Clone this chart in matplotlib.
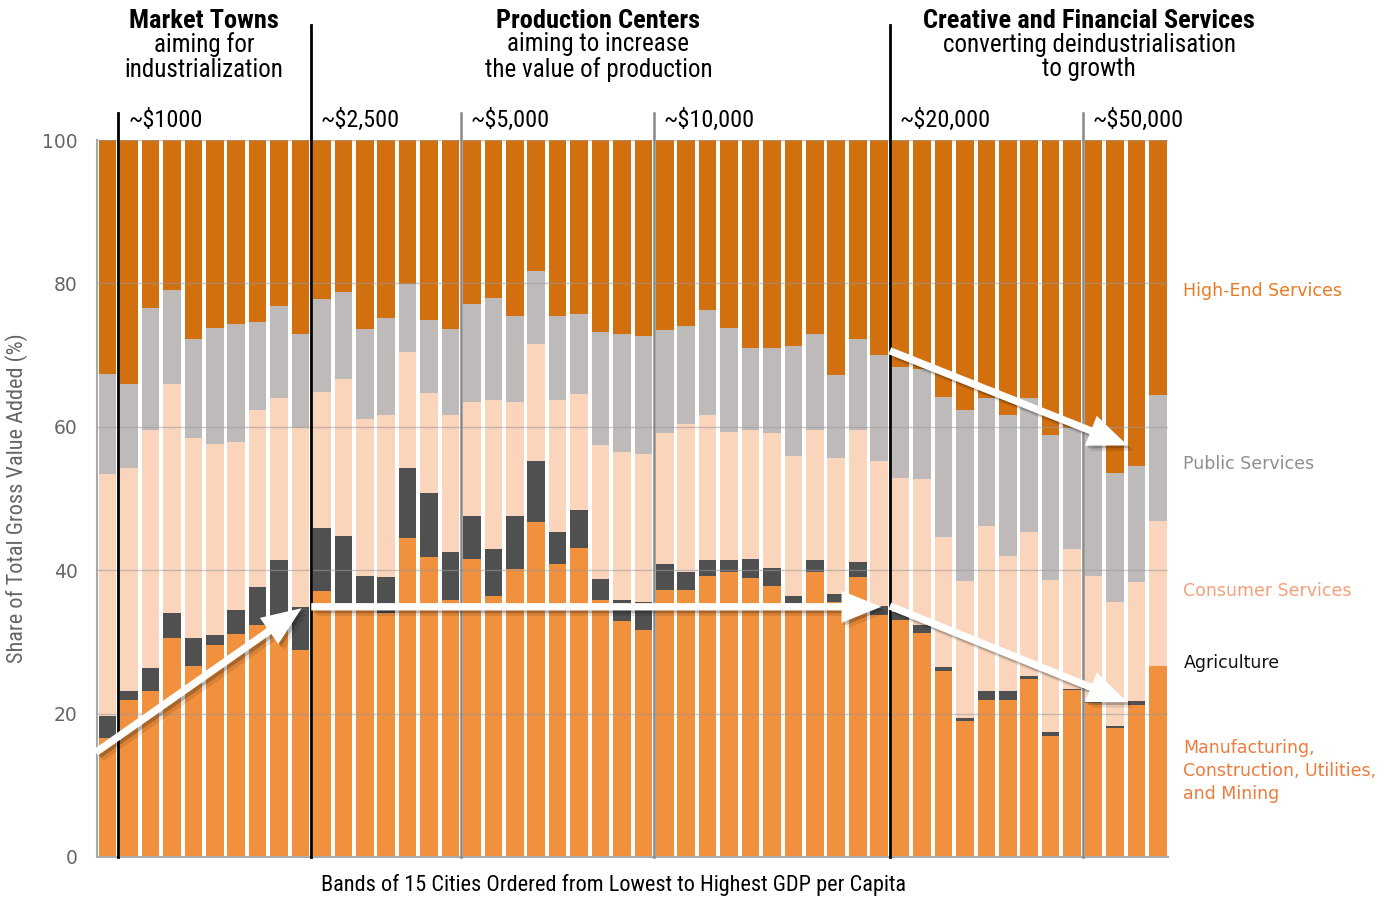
import numpy as np
import matplotlib
matplotlib.use("Agg")
import matplotlib.pyplot as plt
import matplotlib.patheffects as pe
from matplotlib import font_manager

# 每根柱子 = 15 个城市的平均产业构成 (%)
manufacturing = [16.6, 21.9, 23.2, 30.6, 26.6, 29.5, 31.1, 32.3, 33.0, 28.9,
                 37.1, 35.0, 35.0, 34.0, 44.5, 41.8, 35.9, 41.5, 36.4, 40.1,
                 46.7, 40.9, 43.1, 35.9, 32.9, 31.7, 37.3, 37.3, 39.2, 39.7,
                 38.9, 37.8, 35.4, 39.7, 35.5, 39.0, 33.8, 33.1, 31.2, 25.9,
                 18.9, 21.9, 21.9, 24.8, 16.9, 23.3, 21.5, 18.0, 21.2, 26.6]
agriculture = [3.0, 1.3, 3.1, 3.5, 3.9, 1.4, 3.3, 5.3, 8.4, 5.9,
               8.8, 9.8, 4.2, 5.0, 9.8, 8.9, 6.7, 6.0, 6.6, 7.4,
               8.6, 4.4, 5.3, 2.9, 3.0, 3.8, 3.5, 2.4, 2.2, 1.7,
               2.7, 2.5, 1.0, 1.7, 1.2, 2.2, 1.2, 1.1, 1.2, 0.6,
               0.5, 1.3, 1.3, 0.4, 0.5, 0.2, 0.2, 0.3, 0.5, 0.0]
consumer = [33.8, 31.1, 33.2, 31.9, 27.9, 26.7, 23.5, 24.8, 22.6, 25.1,
            19.0, 21.8, 21.9, 22.6, 16.2, 14.0, 19.0, 16.0, 20.7, 16.0,
            16.3, 18.4, 16.2, 18.6, 20.6, 20.7, 18.3, 20.7, 20.2, 17.9,
            18.0, 18.8, 19.5, 18.1, 19.0, 18.4, 20.2, 18.7, 20.3, 18.1,
            19.1, 23.0, 18.8, 20.1, 21.3, 19.4, 17.5, 17.3, 16.7, 20.3]
public = [14.0, 11.7, 17.1, 13.1, 13.8, 16.2, 16.4, 12.2, 12.8, 13.1,
          12.9, 12.2, 12.5, 13.6, 9.4, 10.2, 12.0, 13.6, 14.3, 12.0,
          10.2, 11.8, 11.2, 15.8, 16.5, 16.5, 14.4, 13.6, 14.7, 14.5,
          11.4, 11.9, 15.4, 13.5, 11.5, 12.6, 14.8, 15.4, 15.3, 19.5,
          23.9, 17.8, 19.6, 18.7, 20.1, 16.9, 20.4, 17.9, 16.2, 17.5]
high_end = [32.6, 34.0, 23.4, 20.9, 27.8, 26.2, 25.7, 25.4, 23.2, 27.0,
            22.2, 21.2, 26.4, 24.8, 20.1, 25.1, 26.4, 22.9, 22.0, 24.5,
            18.2, 24.5, 24.2, 26.8, 27.0, 27.3, 26.5, 26.0, 23.7, 26.2,
            29.0, 29.0, 28.7, 27.0, 32.8, 27.8, 30.0, 31.7, 32.0, 35.9,
            37.6, 36.0, 38.4, 36.0, 41.2, 40.2, 40.4, 46.5, 45.4, 35.6]

sectors = ["Manufacturing,\nConstruction, Utilities,\nand Mining", "Agriculture",
           "Consumer Services", "Public Services", "High-End Services"]
colors = ["#F2913D", "#505050", "#FAD5BC", "#BEBAB9", "#D2700F"]
label_colors = ["#EE7A3C", "#111111", "#F3A07A", "#8E8E8E", "#EA7A22"]
label_y = [12.0, 27.1, 37.1, 54.8, 78.9]

# 收入分段线 (位置在柱子之间) 与组别标题
income_labels = ["~$1000", "~$2,500", "~$5,000", "~$10,000", "~$20,000", "~$50,000"]
income_pos = [0.5, 9.5, 16.5, 25.5, 36.5, 45.5]
income_color = ["black", "black", "#888888", "#888888", "black", "#888888"]
group_titles = ["Market Towns", "Production Centers", "Creative and Financial Services"]
group_sub = ["aiming for\nindustrialization", "aiming to increase\nthe value of production",
             "converting deindustrialisation\nto growth"]
group_center = [4.5, 22.9, 45.8]
group_lines = [9.5, 36.5]

# 箭头 (起点, 终点)
arrows = [((-0.55, 14.6), (9.05, 34.7)),
          ((9.5, 34.9), (36.1, 34.9)),
          ((36.5, 70.6), (47.6, 57.4)),
          ((36.5, 35.0), (47.6, 21.6))]

avail = {f.name for f in font_manager.fontManager.ttflist}
narrow = [f for f in ["Liberation Sans Narrow", "Roboto Condensed", "DejaVu Sans"] if f in avail][0]

fig = plt.figure(figsize=(13.97, 8.97), dpi=100)
ax = fig.add_axes([0.0694, 0.0446, 0.767, 0.7993])

x = np.arange(len(manufacturing))
bottom = np.zeros(len(x))
for vals, c in zip([manufacturing, agriculture, consumer, public, high_end], colors):
    ax.bar(x, vals, bottom=bottom, width=0.82, color=c, zorder=2)
    bottom += np.array(vals)

ax.set_xlim(-0.5, 49.5)
ax.set_ylim(0, 100)
ax.set_xticks([])
ax.set_yticks(range(0, 101, 20))
ax.tick_params(axis="y", length=0, pad=14, labelsize=13.5, labelcolor="#666666")
for y in range(20, 101, 20):
    ax.axhline(y, color="#9A9A9A", lw=1, alpha=0.55, zorder=3)
for s in ["top", "right"]:
    ax.spines[s].set_visible(False)
for s in ["left", "bottom"]:
    ax.spines[s].set_color("#AAAAAA")
    ax.spines[s].set_linewidth(1.5)

ax.set_ylabel("Share of Total Gross Value Added (%)", fontsize=16, color="#666666",
              family=narrow, labelpad=10)
ax.set_xlabel("Bands of 15 Cities Ordered from Lowest to Highest GDP per Capita",
              fontsize=16, family=narrow)
ax.xaxis.set_label_coords(0.482, -0.024)

# 分隔线和收入标签
for pos, lab, c in zip(income_pos, income_labels, income_color):
    top = 116 if pos in group_lines else 103.8
    ax.plot([pos, pos], [0, top], color=c, lw=2 if c == "black" else 1.8,
            clip_on=False, zorder=4)
    ax.text(pos + 0.45, 102.7, lab, fontsize=17.5, family=narrow, va="center", ha="left")

for cx, t, sub in zip(group_center, group_titles, group_sub):
    ax.text(cx, 116.6, t, fontsize=19, weight="bold", family=narrow,
            ha="center", va="center")
    ax.text(cx, 111.6, sub, fontsize=18, family=narrow, ha="center", va="center",
            linespacing=1.02)

# 右侧图例标签
for lab, c, ly in zip(sectors, label_colors, label_y):
    ax.text(50.2, ly, lab, fontsize=12.5, color=c, ha="left", va="center",
            linespacing=1.38, clip_on=False)

# 白色箭头 + 阴影
shadow = [pe.SimplePatchShadow(offset=(4, -4), shadow_rgbFace="black", alpha=0.1),
          pe.SimplePatchShadow(offset=(2, -2), shadow_rgbFace="black", alpha=0.22),
          pe.Normal()]
for (x0, y0), (x1, y1) in arrows:
    ann = ax.annotate("", xy=(x1, y1), xytext=(x0, y0), annotation_clip=False,
                      arrowprops=dict(arrowstyle="simple,head_length=1.3,head_width=1.05,tail_width=0.24",
                                      fc="white", ec="none", mutation_scale=22,
                                      shrinkA=0, shrinkB=0), zorder=6)
    ann.arrow_patch.set_path_effects(shadow)

fig.savefig("out.png", dpi=100)
